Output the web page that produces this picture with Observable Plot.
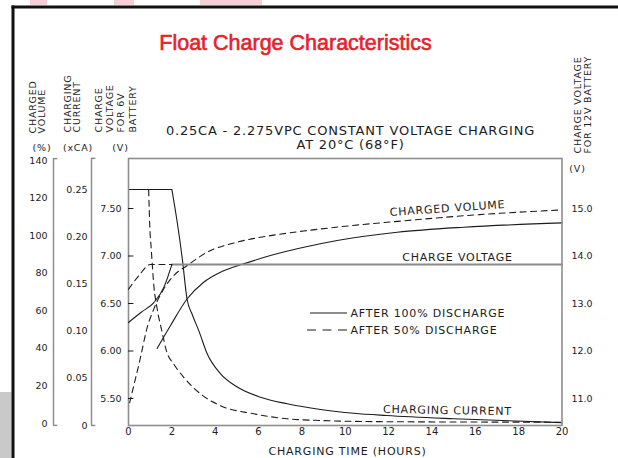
<!DOCTYPE html>
<html>
<head>
<meta charset="utf-8">
<script src="https://cdn.jsdelivr.net/npm/d3@7"></script>
<script src="https://cdn.jsdelivr.net/npm/@observablehq/plot@0.6"></script>
<style>
  html, body { margin: 0; padding: 0; background: #fff; }
  #wrap { position: relative; width: 618px; height: 458px; overflow: hidden; background: #fff; }
  #wrap > svg { position: absolute; left: 0; top: 0; }
  .spaced text { letter-spacing: 0.8px; }
</style>
</head>
<body>
<div id="wrap"></div>
<script>
// ---------- data ----------
const hourTicks = [0, 2, 4, 6, 8, 10, 12, 14, 16, 18, 20];
const volumeTicks = [0, 20, 40, 60, 80, 100, 120, 140];          // %
const currentTicks = [0, 0.05, 0.10, 0.15, 0.20, 0.25];          // xCA
const volt6Ticks = [5.5, 6.0, 6.5, 7.0, 7.5];                    // V (6V battery)
const volt12Ticks = [11, 12, 13, 14, 15];                        // V (12V battery)

// [hours, value]  -- after 100% discharge (solid)
const volume100 = [[1.32,40],[1.94,52.2],[2.71,66.4],[3.47,75.2],[4.24,80.5],[5.32,85],[6.55,89.4],[8.09,93.8],[9.63,97.4],[12.4,101.8],[15.47,104.5],[20,106.8]];
const current100 = [[0,0.25],[2.0,0.25],[2.25,0.215],[2.48,0.177],[2.7,0.134],[2.95,0.117],[3.25,0.10],[3.63,0.076],[4.24,0.055],[5.0,0.041],[6.09,0.030],[7.32,0.023],[8.86,0.017],[10.4,0.013],[11.9,0.0106],[15.0,0.0071],[20,0.003]];
const voltage100 = [[0,6.30],[0.6,6.41],[1.17,6.51],[1.63,6.67],[2.0,6.91]];
// after 50% discharge (dashed)
const volume50 = [[0.05,11],[0.55,35],[0.86,51],[1.17,61],[1.63,71.7],[2.09,78.8],[2.71,84.1],[3.63,91.2],[5.0,96.5],[6.55,100],[8.24,102.7],[10,105],[12.4,107.6],[16.2,111.2],[20,113.7]];
const current50 = [[0,0.25],[0.93,0.25],[0.98,0.212],[1.05,0.187],[1.17,0.148],[1.32,0.124],[1.55,0.099],[1.75,0.079],[2.09,0.065],[2.55,0.051],[3.32,0.0335],[4.24,0.021],[5.78,0.0124],[7.32,0.0071],[8.86,0.0053],[12,0.004],[20,0.0035]];
const voltage50 = [[0,6.65],[0.5,6.80],[1.0,6.91],[2.0,6.91]];
// constant float charge voltage
const chargeVoltage = [[2.0,6.91],[20,6.91]];

const titleText = "Float Charge Characteristics";
const subtitleText = "0.25CA - 2.275VPC CONSTANT VOLTAGE CHARGING\nAT 20°C (68°F)";
const legendLabels = ["AFTER 100% DISCHARGE", "AFTER 50% DISCHARGE"];

// ---------- rendering ----------
const wrap = document.getElementById("wrap");
const FONT = "'DejaVu Sans', sans-serif";
const INK = "#1c1c1c";
const FRAME = "#8e8e8e";
const DASH = "6,4.5";
const W = 618, H = 458;
const xHours = {domain: [0, 20], range: [128, 561.5], axis: null};
const px = d => d[0], py = d => d[1];

function layer(opts, cls) {
  const svg = Plot.plot({
    width: W, height: H,
    style: `background:transparent;overflow:visible;font-family:${FONT};color:${INK};max-width:none;`,
    ...opts
  });
  if (cls) svg.classList.add(cls);
  wrap.append(svg);
  return svg;
}

const lineOpts = {x: px, y: py, stroke: INK, strokeWidth: 1.1};

// Layer 1: charged volume (%) axis
layer({
  marginLeft: 53, marginRight: 56.5, marginTop: 158, marginBottom: 33,
  x: xHours,
  y: {domain: [0, 140], range: [423, 160], axis: null},
  marks: [
    Plot.ruleX([0], {dx: -75, stroke: FRAME, strokeWidth: 1.5}),
    Plot.ruleY([141, -1], {x1: 0, x2: 0.2, dx: -75, stroke: FRAME, strokeWidth: 1.5}),
    Plot.text(volumeTicks, {y: d => d, frameAnchor: "left", dx: -6, textAnchor: "end", text: d => String(d), fontSize: 9.5, fill: INK}),
    Plot.line(volume100, {...lineOpts, curve: "monotone-x"}),
    Plot.line(volume50, {...lineOpts, curve: "monotone-x", strokeDasharray: DASH})
  ]
});

// Layer 2: charging current (xCA) axis
layer({
  marginLeft: 91, marginRight: 56.5, marginTop: 158, marginBottom: 33,
  x: xHours,
  y: {domain: [0, 0.25], range: [425, 189], axis: null},
  marks: [
    Plot.ruleX([0], {dx: -37, stroke: FRAME, strokeWidth: 1.5}),
    Plot.ruleY([0.283, 0], {x1: 0, x2: 0.2, dx: -37, stroke: FRAME, strokeWidth: 1.5}),
    Plot.text(currentTicks, {y: d => d, frameAnchor: "left", dx: -4, textAnchor: "end", text: d => d === 0 ? "0" : d.toFixed(2), fontSize: 9.5, fill: INK}),
    Plot.line(current100.slice(0, 2), lineOpts),
    Plot.line(current100.slice(1), {...lineOpts, curve: "monotone-x"}),
    Plot.line(current50.slice(0, 2), {...lineOpts, strokeDasharray: DASH}),
    Plot.line(current50.slice(1), {...lineOpts, curve: "monotone-x", strokeDasharray: DASH})
  ]
});

// Layer 3: main frame, hours axis, 6V / 12V voltage axes
layer({
  marginLeft: 128, marginRight: 56.5, marginTop: 158, marginBottom: 33,
  x: xHours,
  y: {domain: [5.5, 7.5], range: [398, 208], axis: null},
  marks: [
    Plot.frame({stroke: FRAME, strokeWidth: 1.6}),
    Plot.text(hourTicks, {x: d => d, frameAnchor: "bottom", dy: 9, text: d => String(d), fontSize: 10, fill: INK}),
    Plot.text(volt6Ticks, {y: d => d, frameAnchor: "left", dx: -7, textAnchor: "end", text: d => d.toFixed(2), fontSize: 9.5, fill: INK}),
    Plot.ruleY(volt6Ticks, {x1: 0, x2: 0.25, stroke: INK, strokeWidth: 1}),
    Plot.text(volt12Ticks, {y: d => d / 2, frameAnchor: "right", dx: 9.5, textAnchor: "start", text: d => d.toFixed(1), fontSize: 9.5, fill: INK}),
    Plot.line(chargeVoltage, {x: px, y: py, stroke: "#8a8a8a", strokeWidth: 2}),
    Plot.line(voltage100, {...lineOpts, curve: "monotone-x"}),
    Plot.line(voltage50, {...lineOpts, curve: "monotone-x", strokeDasharray: DASH})
  ]
});

// Layer 4: text labels, legend, page decorations (pixel scales)
const pix = {
  marginLeft: 0, marginRight: 0, marginTop: 0, marginBottom: 0,
  x: {domain: [0, W], range: [0, W], axis: null},
  y: {domain: [0, H], range: [0, H], axis: null}
};
layer({
  ...pix,
  marks: [
    // scan artefacts of the page
    Plot.rect([0], {x1: 30, x2: 47, y1: 0, y2: 5, fill: "#f2c6ca", fillOpacity: 0.8}),
    Plot.rect([0], {x1: 114, x2: 134, y1: 0, y2: 5, fill: "#f2c6ca", fillOpacity: 0.8}),
    Plot.rect([0], {x1: 200, x2: 262, y1: 0, y2: 5, fill: "#f2c6ca", fillOpacity: 0.8}),
    Plot.rect([0], {x1: 0, x2: 11.5, y1: 392, y2: H, fill: "#c9c9c9"}),
    Plot.rect([0], {x1: 11.5, x2: 14.5, y1: 5.5, y2: H, fill: "#111"}),
    Plot.rect([0], {x1: 11.5, x2: W, y1: 5.5, y2: 8.5, fill: "#111"}),
    // subtitle
    Plot.text([subtitleText], {x: 350, y: 137, text: d => d, fontSize: 13, lineHeight: 1.12, fill: INK}),
    // rotated axis headers
    Plot.text(["CHARGED\nVOLUME"], {x: 29, y: 133, text: d => d, rotate: -90, textAnchor: "start", lineAnchor: "top", fontSize: 9.5, lineHeight: 0.95, fill: INK}),
    Plot.text(["CHARGING\nCURRENT"], {x: 64, y: 132, text: d => d, rotate: -90, textAnchor: "start", lineAnchor: "top", fontSize: 9.5, lineHeight: 0.95, fill: INK}),
    Plot.text(["CHARGE\nVOLTAGE\nFOR 6V\nBATTERY"], {x: 93, y: 132, text: d => d, rotate: -90, textAnchor: "start", lineAnchor: "top", fontSize: 9.5, lineHeight: 1.2, fill: INK}),
    Plot.text(["CHARGE VOLTAGE\nFOR 12V BATTERY"], {x: 573, y: 153, text: d => d, rotate: -90, textAnchor: "start", lineAnchor: "top", fontSize: 9.5, lineHeight: 1.05, fill: INK}),
    // units
    Plot.text(["(%)"], {x: 41.5, y: 147, text: d => d, fontSize: 9.5, fill: INK}),
    Plot.text(["(xCA)"], {x: 77.5, y: 147, text: d => d, fontSize: 9.5, fill: INK}),
    Plot.text(["(V)"], {x: 120, y: 147, text: d => d, fontSize: 9.5, fill: INK}),
    Plot.text(["(V)"], {x: 577, y: 168, text: d => d, fontSize: 9.5, fill: INK}),
    // curve labels
    Plot.text(["CHARGED VOLUME"], {x: 447, y: 208, text: d => d, rotate: -4, fontSize: 11, fill: INK}),
    Plot.text(["CHARGE VOLTAGE"], {x: 457, y: 256.5, text: d => d, fontSize: 11, fill: INK}),
    Plot.text(["CHARGING CURRENT"], {x: 447, y: 410, text: d => d, rotate: 1, fontSize: 11, fill: INK}),
    // legend
    Plot.ruleY([0], {y: 312.5, x1: 310, x2: 347, stroke: INK, strokeWidth: 1.1}),
    Plot.ruleY([0], {y: 329.5, x1: 307, x2: 347, stroke: INK, strokeWidth: 1.1, strokeDasharray: "9,6.5"}),
    Plot.text([legendLabels[0]], {x: 350, y: 312.5, text: d => d, textAnchor: "start", fontSize: 11, fill: INK}),
    Plot.text([legendLabels[1]], {x: 350, y: 329.5, text: d => d, textAnchor: "start", fontSize: 11, fill: INK}),
    // x axis title
    Plot.text(["CHARGING TIME (HOURS)"], {x: 347, y: 451, text: d => d, fontSize: 11, fill: INK})
  ]
}, "spaced");

// Layer 5: red title
layer({
  ...pix,
  marks: [
    Plot.text([titleText], {x: 295, y: 43, text: d => d, fontSize: 21.5, fill: "#e8202a", stroke: "#e8202a", strokeWidth: 0.6, fontFamily: "'Liberation Sans', Arial, sans-serif"})
  ]
});
</script>
</body>
</html>
